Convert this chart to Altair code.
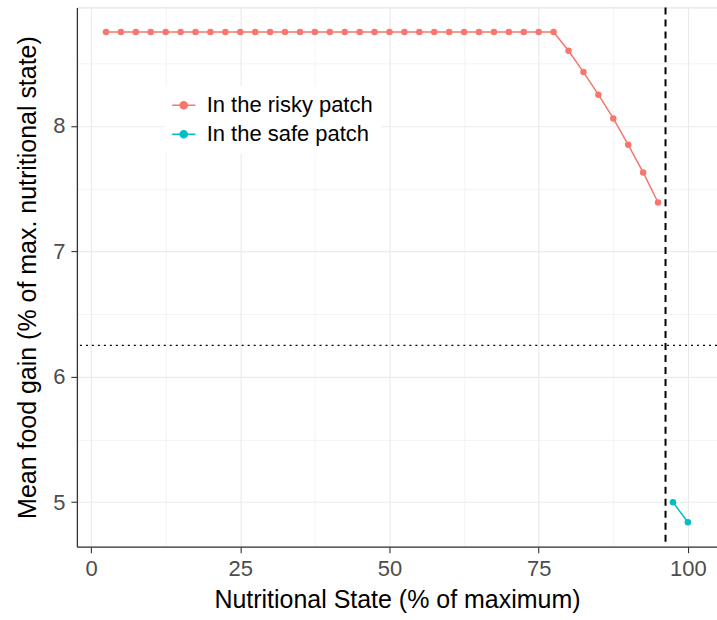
import altair as alt
import pandas as pd

# Nutritional state (% of maximum) and mean food gain
risky_x = [2.5, 5, 7.5, 10, 12.5, 15, 17.5, 20, 22.5, 25, 27.5, 30, 32.5, 35, 37.5, 40,
           42.5, 45, 47.5, 50, 52.5, 55, 57.5, 60, 62.5, 65, 67.5, 70, 72.5, 75, 77.5,
           80, 82.5, 85, 87.5, 90, 92.5, 95]
risky_y = [8.75, 8.75, 8.75, 8.75, 8.75, 8.75, 8.75, 8.75, 8.75, 8.75, 8.75, 8.75, 8.75,
           8.75, 8.75, 8.75, 8.75, 8.75, 8.75, 8.75, 8.75, 8.75, 8.75, 8.75, 8.75, 8.75,
           8.75, 8.75, 8.75, 8.75, 8.75,
           8.60, 8.43, 8.25, 8.06, 7.85, 7.63, 7.39]
safe_x = [97.5, 100]
safe_y = [5.0, 4.84]
series_names = ["In the risky patch", "In the safe patch"]
series_colors = ["#F8766D", "#00BFC4"]
threshold_x = [96.25]
threshold_y = [6.25]
x_ticks = [0, 12.5, 25, 37.5, 50, 62.5, 75, 87.5, 100]
y_ticks = [5, 5.5, 6, 6.5, 7, 7.5, 8, 8.5]

df = pd.concat([
    pd.DataFrame({"x": risky_x, "y": risky_y, "s": series_names[0]}),
    pd.DataFrame({"x": safe_x, "y": safe_y, "s": series_names[1]}),
])

FONT = "Liberation Sans"
legend_symbol = "M -1.2 0 L 1.2 0 M 0.37 0 A 0.37 0.37 0 1 1 -0.37 0 A 0.37 0.37 0 1 1 0.37 0 Z"

xscale = alt.Scale(domain=[-2.375, 104.875], nice=False, zero=False)
yscale = alt.Scale(domain=[4.6455, 8.9455], nice=False, zero=False)

common_axis = dict(
    gridColor="#EBEBEB",
    tickColor="#333333", tickSize=6, tickWidth=1.1,
    domainColor="#333333", domainWidth=1.3,
    labelFont=FONT, labelFontSize=22, labelColor="#4D4D4D",
    titleFont=FONT, titleFontSize=25, titleFontWeight="normal", titleColor="black",
)

x_axis = alt.Axis(
    values=x_ticks, title="Nutritional State (% of maximum)",
    labelExpr="datum.value % 25 === 0 ? format(datum.value, 'd') : ''",
    gridWidth={"condition": {"test": "datum.value % 25 === 0", "value": 1.2}, "value": 0.6},
    tickOpacity={"condition": {"test": "datum.value % 25 === 0", "value": 1}, "value": 0},
    labelPadding=6, titlePadding=8,
    **common_axis,
)
y_axis = alt.Axis(
    values=y_ticks, title="Mean food gain (% of max. nutritional state)",
    labelExpr="datum.value % 1 === 0 ? format(datum.value, 'd') : ''",
    gridWidth={"condition": {"test": "datum.value % 1 === 0", "value": 1.2}, "value": 0.6},
    tickOpacity={"condition": {"test": "datum.value % 1 === 0", "value": 1}, "value": 0},
    labelPadding=6, titlePadding=12,
    **common_axis,
)

color = alt.Color(
    "s:N",
    scale=alt.Scale(domain=series_names, range=series_colors),
    legend=alt.Legend(
        title=None, orient="none", legendX=88, legendY=79,
        symbolType=legend_symbol, symbolSize=370, symbolStrokeWidth=1.6,
        labelFont=FONT, labelFontSize=22, labelColor="black", labelLimit=0,
        rowPadding=7, fillColor="white", padding=8, labelOffset=12,
    ),
)

base = alt.Chart(df)
lines = base.mark_line(strokeWidth=1.5).encode(
    x=alt.X("x:Q", scale=xscale, axis=x_axis),
    y=alt.Y("y:Q", scale=yscale, axis=y_axis),
    color=color,
    detail="s:N",
)
points = base.mark_circle(size=42, opacity=1).encode(
    x=alt.X("x:Q", scale=xscale),
    y=alt.Y("y:Q", scale=yscale),
    color=alt.Color("s:N", scale=alt.Scale(domain=series_names, range=series_colors), legend=None),
)

vline = alt.Chart(pd.DataFrame({"x": threshold_x})).mark_rule(
    color="black", strokeWidth=2, strokeDash=[7, 5]
).encode(x=alt.X("x:Q", scale=xscale))
hline = alt.Chart(pd.DataFrame({"y": threshold_y})).mark_rule(
    color="black", strokeWidth=1.3, strokeDash=[2, 4]
).encode(y=alt.Y("y:Q", scale=yscale))

chart = alt.layer(lines, points, hline, vline).properties(
    width=641, height=540,
    autosize=alt.AutoSizeParams(type="none"),
    padding={"left": 77, "top": 7, "right": 0, "bottom": 73},
).configure_view(stroke=None).configure(background="white")

chart.save("out.html", embed_options={"renderer": "svg", "actions": False})
